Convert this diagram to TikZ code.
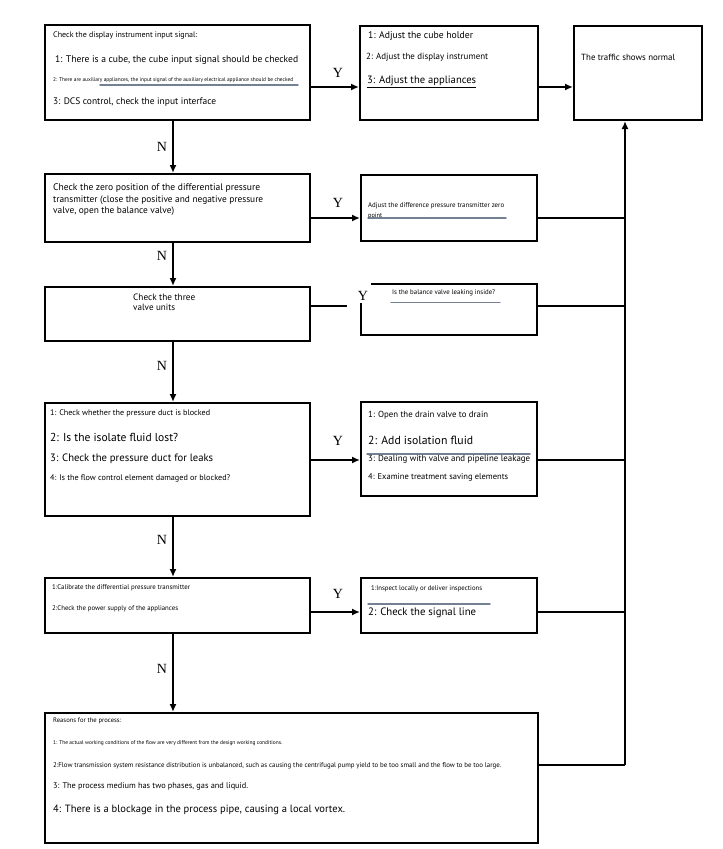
\documentclass[tikz,border=0pt]{standalone}
\usepackage{fontspec}
\setmainfont{PT Sans}
\newfontfamily\yfont{Liberation Serif}
\usetikzlibrary{arrows.meta}
\definecolor{smearc}{RGB}{70,86,112}
\newcommand{\fw}[2]{\resizebox{#1pt}{!}{#2}}
\begin{document}
\begin{tikzpicture}[x=1pt,y=-1pt,
  boxline/.style={line width=2pt, line join=miter},
  box/.style={boxline, draw, inner sep=0pt},
  hidden/.style={inner sep=0pt},
  txt/.style={anchor=west, inner sep=0pt},
  conn/.style={line width=1.6pt},
  arr/.style={conn, -{Latex[length=8pt,width=7pt]}},
  lab/.style={font=\yfont\fontsize{14}{14}\selectfont, inner sep=0pt},
  smear/.style={line width=1.4pt, color=smearc, opacity=0.75, line cap=round}]
\useasboundingbox[fill=white] (0,0) rectangle (723,849);

% boxes
\node[box, minimum width=265pt, minimum height=95pt] (b1) at (177.5,72.5) {};
\node[box, minimum width=178pt, minimum height=94pt] (b2) at (449,73) {};
\node[box, minimum width=128pt, minimum height=94pt] (b3) at (638,73) {};
\node[box, minimum width=265pt, minimum height=68pt] (b4) at (177.5,208) {};
\node[box, minimum width=176pt, minimum height=66pt] (b5) at (449,208) {};
\node[box, minimum width=265pt, minimum height=54pt] (b6) at (177.5,314) {};
\node[hidden, minimum width=176pt, minimum height=51pt] (b7) at (449,309.5) {};
\draw[boxline] ([xshift=10pt]b7.north west) -- (b7.north east) -- (b7.south east) -- (b7.south west) -- ([yshift=-19pt]b7.north west);
\node[box, minimum width=265pt, minimum height=113pt] (b8) at (177.5,459.5) {};
\node[box, minimum width=176pt, minimum height=94pt] (b9) at (449,449) {};
\node[box, minimum width=265pt, minimum height=55pt] (b10) at (177.5,605.5) {};
\node[box, minimum width=176pt, minimum height=55pt] (b11) at (449,605.5) {};
\node[box, minimum width=493pt, minimum height=130pt] (b12) at (291.5,778) {};

% texts box 1
\node[txt] (t1a) at (53,35) {\fw{144}{Check the display instrument input signal:}};
\node[txt] (t1b) at (55,60) {\fw{243}{1: There is a cube, the cube input signal should be checked}};
\node[txt] (t1c) at (53,80) {\fw{240}{2: There are auxiliary appliances, the input signal of the auxiliary electrical appliance should be checked}};
\node[txt] (t1d) at (53,102) {\fw{163}{3: DCS control, check the input interface}};
% box 2
\node[txt] (t2a) at (368,36) {\fw{105}{1: Adjust the cube holder}};
\node[txt] (t2b) at (366,57) {\fw{122}{2: Adjust the display instrument}};
\node[txt] (t2c) at (367,82) {\fw{109}{\underline{3: Adjust the appliances}}};
% box 3
\node[txt] (t3a) at (581,57) {\fw{94}{The traffic shows normal}};
% box 4
\node[txt] (t4a) at (53,188.5) {\fw{207}{Check the zero position of the differential pressure}};
\node[txt] (t4b) at (53,200) {\fw{210}{transmitter (close the positive and negative pressure}};
\node[txt] (t4c) at (53,211.5) {\fw{121}{valve, open the balance valve)}};
% box 5
\node[txt] (t5a) at (368,205.5) {\fw{136}{Adjust the difference pressure transmitter zero}};
\node[txt] (t5b) at (368,215.5) {\fw{14}{point}};
% box 6
\node[txt] (t6a) at (133,297) {\fw{62}{Check the three}};
\node[txt] (t6b) at (133,307) {\fw{42}{valve units}};
% box 7
\node[txt] (t7a) at (392,293) {\fw{103}{Is the balance valve leaking inside?}};
% box 8
\node[txt] (t8a) at (50,413) {\fw{160}{1: Check whether the pressure duct is blocked}};
\node[txt] (t8b) at (50,437) {\fw{128}{2: Is the isolate fluid lost?}};
\node[txt] (t8c) at (50,459) {\fw{163}{3: Check the pressure duct for leaks}};
\node[txt] (t8d) at (50,478) {\fw{180}{4: Is the flow control element damaged or blocked?}};
% box 9
\node[txt] (t9a) at (368,415.5) {\fw{120}{1: Open the drain valve to drain}};
\node[txt] (t9b) at (368,440) {\fw{105}{2: Add isolation fluid}};
\node[txt] (t9c) at (368,459) {\fw{162}{3: Dealing with valve and pipeline leakage}};
\node[txt] (t9d) at (368,477) {\fw{140}{4: Examine treatment saving elements}};
% box 10
\node[txt] (t10a) at (52,588) {\fw{138}{1:Calibrate the differential pressure transmitter}};
\node[txt] (t10b) at (52,609) {\fw{126}{2:Check the power supply of the appliances}};
% box 11
\node[txt] (t11a) at (371,589) {\fw{111}{1:Inspect locally or deliver inspections}};
\node[txt] (t11b) at (368,612.5) {\fw{108}{2: Check the signal line}};
% box 12
\node[txt] (t12a) at (53,721) {\fw{68}{Reasons for the process:}};
\node[txt] (t12b) at (53,743) {\fw{229}{1: The actual working conditions of the flow are very different from the design working conditions.}};
\node[txt] (t12c) at (53,765.5) {\fw{448}{2:Flow transmission system resistance distribution is unbalanced, such as causing the centrifugal pump yield to be too small and the flow to be too large.}};
\node[txt] (t12d) at (53,786.5) {\fw{195}{3: The process medium has two phases, gas and liquid.}};
\node[txt] (t12e) at (53,810) {\fw{292}{4: There is a blockage in the process pipe, causing a local vortex.}};

% scan smears
\draw[smear] (100,85) -- (298,85);
\draw[smear] (368,218) -- (506,218);
\draw[smear] (391,302.5) -- (500,302.5);
\draw[smear] (367,454) -- (530,454);
\draw[smear] (368,604) -- (490,604);

% helper coordinates
\coordinate (vx) at (173,0);
\coordinate (tr) at (625,765);
\coordinate (r1) at (0,87);
\coordinate (r4) at (0,218);
\coordinate (r6) at (0,306);
\coordinate (r8) at (0,460);
\coordinate (r10) at (0,612);
\coordinate (c6end) at (347,306);

% horizontal connectors
\draw[arr] (b1.east |- r1) -- (b2.west |- r1);
\draw[arr] (b2.east |- r1) -- (b3.west |- r1);
\draw[arr] (b4.east |- r4) -- (b5.west |- r4);
\draw[conn] (b5.east |- r4) -- (tr |- r4);
\draw[conn] (b6.east |- r6) -- (c6end);
\draw[conn] (b7.east |- r6) -- (tr |- r6);
\draw[arr] (b8.east |- r8) -- (b9.west |- r8);
\draw[conn] (b9.east |- r8) -- (tr |- r8);
\draw[arr] (b10.east |- r10) -- (b11.west |- r10);
\draw[conn] (b11.east |- r10) -- (tr |- r10);
\draw[conn] (b12.east |- tr) -- (tr);
\draw[arr] (tr) -- (b3.south -| tr);

% vertical connectors
\draw[arr] (b1.south -| vx) -- (b4.north -| vx);
\draw[arr] (b4.south -| vx) -- (b6.north -| vx);
\draw[arr] (b6.south -| vx) -- (b8.north -| vx);
\draw[arr] (b8.south -| vx) -- (b10.north -| vx);
\draw[arr] (b10.south -| vx) -- (b12.north -| vx);

% labels
\node[lab] (y1) at (338,73) {Y};
\node[lab] (y2) at (338,203) {Y};
\node[lab] (y3) at (363,296) {Y};
\node[lab] (y4) at (338,441) {Y};
\node[lab] (y5) at (338,594) {Y};
\node[lab] (n1) at (162,147) {N};
\node[lab] (n2) at (162,256) {N};
\node[lab] (n3) at (162,366) {N};
\node[lab] (n4) at (162,540) {N};
\node[lab] (n5) at (162,669) {N};
\end{tikzpicture}
\end{document}
